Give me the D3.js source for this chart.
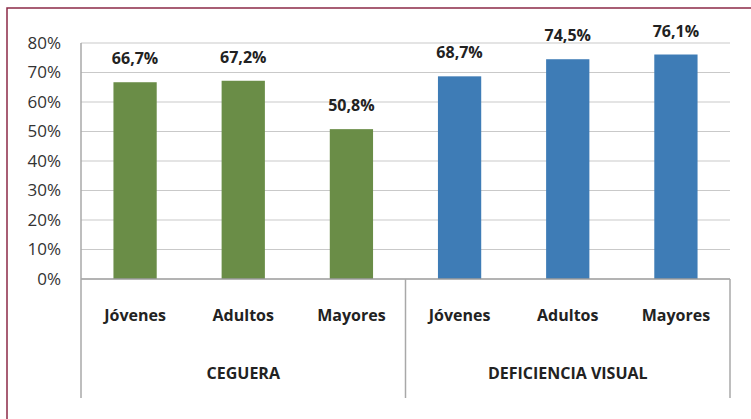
<!DOCTYPE html>
<html>
<head>
<meta charset="utf-8">
<script src="https://cdn.jsdelivr.net/npm/d3@7"></script>
<style>
  body { margin: 0; background: #fff; }
  svg { display: block; font-family: 'Open Sans', sans-serif; }
</style>
</head>
<body>
<div class="chart"></div>
<script>
const groups = ['CEGUERA', 'DEFICIENCIA VISUAL'];
const ages = ['Jóvenes', 'Adultos', 'Mayores'];
const ceguera = [66.7, 67.2, 50.8];
const deficiencia = [68.7, 74.5, 76.1];
const yTicks = [0, 10, 20, 30, 40, 50, 60, 70, 80];

const rows = [];
groups.forEach((g, gi) => {
    const vals = gi === 0 ? ceguera : deficiencia;
    ages.forEach((a, i) => rows.push({key: g + '|' + a, group: g, age: a, value: vals[i]}));
});

const W = 751, H = 419;
const margin = {top: 43, left: 81, right: 21, bottom: 140};
const width = W - margin.left - margin.right;
const height = H - margin.top - margin.bottom;
const colors = {'CEGUERA': '#6a8d47', 'DEFICIENCIA VISUAL': '#3e7cb6'};

const svg = d3.select('.chart')
    .append('svg')
    .attr('width', W)
    .attr('height', H);

// frame
svg.append('rect')
    .attr('x', 7).attr('y', 8)
    .attr('width', W + 20).attr('height', H + 20)
    .attr('fill', 'none')
    .attr('stroke', '#8c2a47')
    .attr('stroke-width', 1.5);

const g = svg.append('g')
    .attr('transform', `translate(${margin.left},${margin.top})`);

const xScale = d3.scaleBand()
    .domain(rows.map(d => d.key))
    .range([0, width])
    .paddingInner(0.6)
    .paddingOuter(0.3);

const yScale = d3.scaleLinear()
    .domain([0, 80])
    .range([height, 0]);

// gridlines
g.selectAll('.grid')
    .data(yTicks.filter(t => t > 0))
    .enter()
    .append('line')
    .attr('x1', 0).attr('x2', width)
    .attr('y1', d => yScale(d)).attr('y2', d => yScale(d))
    .attr('stroke', '#c9c9c9')
    .attr('stroke-width', 1.2);

// y axis
const yAxis = d3.axisLeft(yScale)
    .tickValues(yTicks)
    .tickFormat(d => d + '%')
    .tickSize(0)
    .tickPadding(20);

g.append('g')
    .call(yAxis)
    .call(ax => ax.select('.domain').remove())
    .selectAll('text')
    .attr('font-size', 17)
    .attr('font-family', "'Open Sans', sans-serif")
    .attr('fill', '#333');

// bars
g.selectAll('.bar')
    .data(rows)
    .enter()
    .append('rect')
    .attr('x', d => xScale(d.key))
    .attr('y', d => yScale(d.value))
    .attr('width', xScale.bandwidth())
    .attr('height', d => height - yScale(d.value))
    .attr('fill', d => colors[d.group]);

// value labels
g.selectAll('.val')
    .data(rows)
    .enter()
    .append('text')
    .attr('x', d => xScale(d.key) + xScale.bandwidth() / 2)
    .attr('y', d => yScale(d.value) - 18)
    .attr('text-anchor', 'middle')
    .attr('font-size', 16)
    .attr('font-weight', 'bold')
    .attr('fill', '#222')
    .text(d => d3.format('.1f')(d.value).replace('.', ',') + '%');

// axis lines
const bottomExt = 119;
g.append('line')
    .attr('x1', 0).attr('x2', width)
    .attr('y1', height).attr('y2', height)
    .attr('stroke', '#9a9a9a').attr('stroke-width', 1.5);

g.append('line')
    .attr('x1', 0).attr('x2', 0)
    .attr('y1', 0).attr('y2', height + bottomExt)
    .attr('stroke', '#a8a8a8').attr('stroke-width', 1.5);

const groupScale = d3.scaleBand().domain(groups).range([0, width]);
g.selectAll('.sep')
    .data(groups)
    .enter()
    .append('line')
    .attr('x1', d => groupScale(d) + groupScale.bandwidth())
    .attr('x2', d => groupScale(d) + groupScale.bandwidth())
    .attr('y1', height).attr('y2', height + bottomExt)
    .attr('stroke', '#a8a8a8').attr('stroke-width', 1.5);

// category labels
g.selectAll('.cat')
    .data(rows)
    .enter()
    .append('text')
    .attr('x', d => xScale(d.key) + xScale.bandwidth() / 2)
    .attr('y', height + 42)
    .attr('text-anchor', 'middle')
    .attr('font-size', 16)
    .attr('font-weight', 'bold')
    .attr('fill', '#222')
    .text(d => d.age);

// group labels
g.selectAll('.grp')
    .data(groups)
    .enter()
    .append('text')
    .attr('x', d => groupScale(d) + groupScale.bandwidth() / 2)
    .attr('y', height + 100)
    .attr('text-anchor', 'middle')
    .attr('font-size', 16)
    .attr('font-weight', 'bold')
    .attr('fill', '#222')
    .text(d => d);
</script>
</body>
</html>
